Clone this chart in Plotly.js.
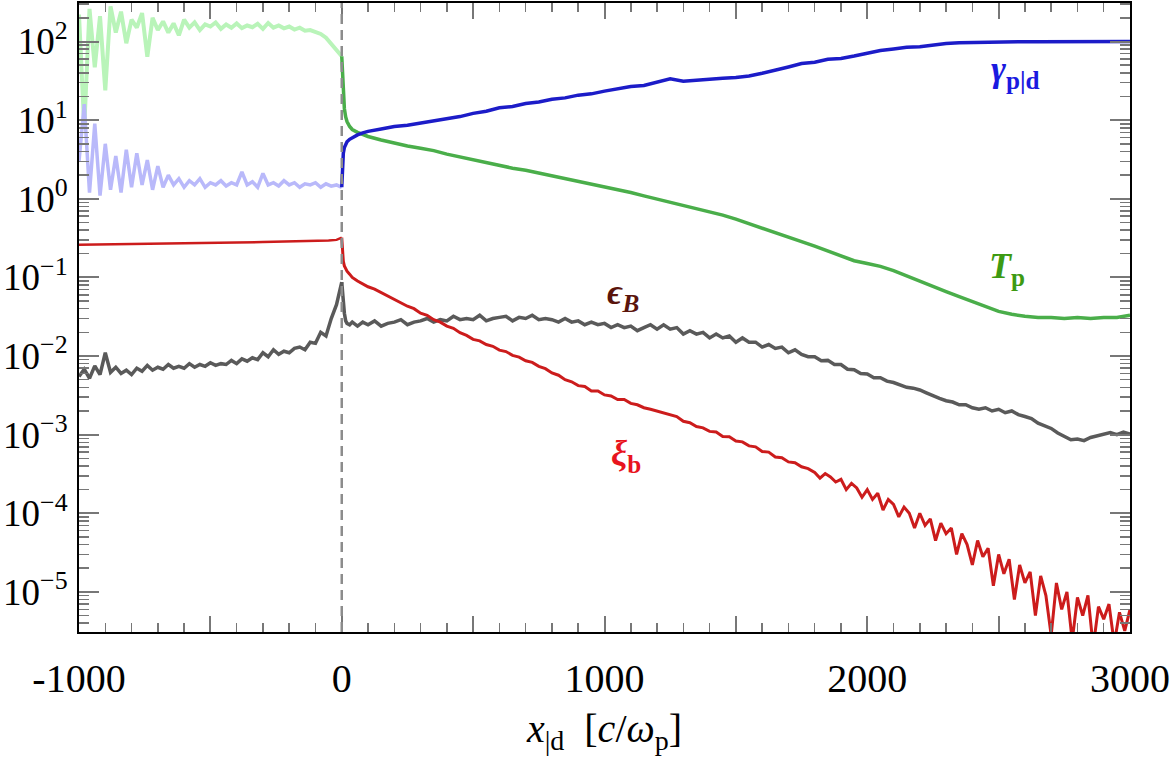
<!DOCTYPE html>
<html>
<head>
<meta charset="utf-8">
<script src="https://cdn.plot.ly/plotly-3.0.1.min.js"></script>
<style>html,body{margin:0;padding:0;background:#fff;}#chart{width:1171px;height:775px;}</style>
</head>
<body>
<div id="chart"></div>
<script>
// ---------- DATA ----------
// upstream sampling grid (x in c/omega_p)
const xUp = [-1000,-980,-960,-940,-920,-900,-880,-860,-840,-820,-800,-780,-760,-740,-720,-700,-680,-660,-640,-620,-600,-580,-560,-540,-520,-500,-480,-460,-440,-420,-400,-380,-360,-340,-320,-300,-280,-260,-240,-220,-200,-180,-160,-140,-120,-100,-80,-60,-40,-20,0];
const tempUp = [220,8,260,47,210,24,280,130,240,95,190,150,230,64,200,140,180,130,170,120,190,150,175,140,165,155,175,145,165,150,170,148,160,152,168,145,172,150,160,147,155,142,150,137,140,131,125,112,92,76,65];
const gammaUp = [3,16,1.2,9,1.1,5,1.3,3.5,1.2,4.2,1.4,3.8,1.5,3.1,1.3,2.6,1.4,2.0,1.5,1.8,1.4,1.7,1.5,1.8,1.4,1.6,1.5,1.7,1.45,1.6,1.5,2.2,1.5,1.65,1.4,2.1,1.5,1.6,1.45,1.7,1.5,1.6,1.4,1.55,1.5,1.6,1.4,1.55,1.45,1.5,1.4];
const epsUp = [0.0055,0.0068,0.0052,0.0075,0.0058,0.011,0.0062,0.0072,0.0060,0.0066,0.0058,0.0070,0.0064,0.0076,0.0066,0.0072,0.0068,0.0078,0.0070,0.0074,0.0070,0.0080,0.0072,0.0078,0.0074,0.0082,0.0076,0.0080,0.0078,0.0088,0.0080,0.0092,0.0086,0.0095,0.0090,0.0110,0.0098,0.0120,0.0105,0.0115,0.0110,0.0125,0.0130,0.0120,0.0150,0.0145,0.0200,0.0180,0.0300,0.0450,0.087];
const xXiUp = [-1000,-900,-800,-700,-600,-500,-400,-300,-200,-100,-50,-20,0];
const xiUp = [0.26,0.262,0.265,0.267,0.27,0.273,0.277,0.281,0.285,0.29,0.294,0.30,0.32];

// downstream, coarse grid (gamma, T)
const xDownCoarse = [0,3,6,10,15,20,30,40,60,80,100,150,200,250,300,350,400,450,500,550,600,650,700,750,800,850,900,950,1000,1050,1100,1150,1200,1250,1300,1350,1400,1450,1500,1550,1600,1650,1700,1750,1800,1850,1900,1950,2000,2050,2100,2150,2200,2250,2300,2350,2400,2450,2500,2550,2600,2650,2700,2750,2800,2850,2900,2950,3000];
const gammaDown = [1.4,2.6,3.8,4.5,5.0,5.3,5.7,6.0,6.5,6.9,7.2,7.7,8.3,8.6,9.2,9.7,10.6,11.1,12.2,13.0,14.4,14.9,16.3,17.0,18.4,19.2,20.8,21.6,23.4,25.0,26.8,27.6,30.5,33.5,31.2,32.4,32.8,34.2,34.8,36.5,39.5,43.0,47.5,52.5,54.5,59.5,61.0,65.5,70.5,77.0,80.5,84.5,86.0,90.5,94.5,96.5,97.5,98.0,98.5,99.0,99.4,99.7,100,100,100,100,100.2,100.2,100.2];
const tempDown = [65,35,20,14,11,9.6,8.3,7.6,7.0,6.6,6.2,5.6,5.1,4.7,4.4,4.1,3.7,3.4,3.15,2.9,2.65,2.45,2.3,2.12,1.98,1.82,1.68,1.55,1.44,1.32,1.2,1.09,0.99,0.91,0.83,0.76,0.69,0.62,0.55,0.48,0.42,0.37,0.325,0.285,0.25,0.215,0.185,0.163,0.15,0.138,0.122,0.104,0.09,0.077,0.066,0.057,0.049,0.042,0.037,0.034,0.032,0.031,0.031,0.030,0.031,0.030,0.031,0.031,0.033];

// downstream, fine grid (epsilon_B)
const xEpsDown = [0,3,6,10,15,20,30,40,60,80,100,125,150,175,200,225,250,275,300,325,350,375,400,425,450,475,500,525,550,575,600,625,650,675,700,725,750,775,800,825,850,875,900,925,950,975,1000,1025,1050,1075,1100,1125,1150,1175,1200,1225,1250,1275,1300,1325,1350,1375,1400,1425,1450,1475,1500,1525,1550,1575,1600,1625,1650,1675,1700,1725,1750,1775,1800,1825,1850,1875,1900,1925,1950,1975,2000,2025,2050,2075,2100,2125,2150,2175,2200,2225,2250,2275,2300,2325,2350,2375,2400,2425,2450,2475,2500,2525,2550,2575,2600,2625,2650,2675,2700,2725,2750,2775,2800,2825,2850,2875,2900,2925,2950,2975,3000];
const epsDown = [0.087,0.06,0.045,0.035,0.028,0.026,0.025,0.027,0.024,0.027,0.025,
0.028,0.024,0.026,0.027,0.029,0.025,0.027,0.028,0.030,0.027,0.029,0.028,0.032,0.029,0.030,0.029,0.033,0.028,0.030,0.031,0.032,0.028,0.031,0.030,0.033,0.029,0.030,0.029,0.027,0.030,0.027,0.028,0.025,0.027,0.025,0.026,0.023,0.025,0.023,0.024,0.021,0.023,0.025,0.022,0.025,0.022,0.023,0.019,0.021,0.019,0.020,0.017,0.019,0.017,0.018,0.015,0.017,0.015,0.015,0.013,0.014,0.0125,0.013,0.011,0.012,0.0105,0.0098,0.0098,0.0087,0.0088,0.0078,0.0078,0.0068,0.0067,0.0060,0.0059,0.0053,0.0053,0.0048,0.0046,0.0043,0.0040,0.0039,0.0037,0.0034,0.0031,0.0029,0.0027,0.0026,0.0024,0.0024,0.0022,0.0021,0.0022,0.0020,0.0021,0.0019,0.0020,0.0018,0.0017,0.0016,0.0014,0.0013,0.0012,0.00105,0.00095,0.00086,0.00088,0.00084,0.00092,0.00096,0.00101,0.00106,0.00100,0.00108,0.00102];

// downstream grid (xi_b)
const xXiDown = [0,3,6,10,15,20,30,40,60,80,100,125,150,175,200,225,250,275,300,325,350,375,400,425,450,475,500,525,550,575,600,625,650,675,700,725,750,775,800,825,850,875,900,925,950,975,1000,1025,1050,1075,1100,1125,1150,1175,1200,1225,1250,1275,1300,1325,1350,1375,1400,1425,1450,1475,1500,1525,1550,1575,1600,1625,1650,1675,1700,1725,1750,1775,1800,1820,1840,1860,1880,1900,1920,1940,1960,1980,2000,2020,2040,2060,2080,2100,2120,2140,2160,2180,2200,2220,2240,2260,2280,2300,2320,2340,2360,2380,2400,2420,2440,2460,2480,2500,2520,2540,2560,2580,2600,2620,2640,2660,2680,2700,2720,2740,2760,2780,2800,2820,2840,2860,2880,2900,2920,2940,2960,2980,3000];
const xiDown = [0.32,0.2,0.16,0.14,0.13,0.12,0.11,0.1,0.09,0.082,0.076,
0.071,0.064,0.059,0.052,0.048,0.043,0.040,0.035,0.033,0.029,0.027,0.024,0.0225,0.0198,0.0183,0.0163,0.0156,0.0140,0.0133,0.0119,0.0114,0.0102,0.0097,0.0087,0.0083,0.0074,0.0069,0.0061,0.0057,0.0050,0.0047,0.0042,0.0041,0.0036,0.0036,0.0032,0.0031,0.0028,0.0028,0.0025,0.0024,0.0022,0.0021,0.0020,0.0019,0.0018,0.0017,0.00148,0.00142,0.00127,0.00122,0.00110,0.00108,0.00095,0.00094,0.00083,0.00081,0.00072,0.00070,0.00061,0.00060,0.00052,0.00051,0.00045,0.00044,0.00039,0.00037,
3.3e-4,2.8e-4,3.2e-4,2.9e-4,2.5e-4,2.7e-4,2.0e-4,2.4e-4,2.1e-4,1.6e-4,2.0e-4,1.5e-4,1.8e-4,1.1e-4,1.5e-4,1.3e-4,9.0e-5,1.2e-4,1.0e-4,6.5e-5,1.0e-4,7.0e-5,8.5e-5,4.5e-5,7.5e-5,5.5e-5,6.5e-5,3.0e-5,5.5e-5,4.0e-5,2.2e-5,4.5e-5,2.8e-5,3.6e-5,1.2e-5,3.0e-5,1.7e-5,2.6e-5,8.0e-6,2.2e-5,1.3e-5,1.8e-5,5.0e-6,1.6e-5,9.0e-6,2.8e-6,1.3e-5,6.0e-6,1.0e-5,2.4e-6,8.5e-6,5.0e-6,9.0e-6,2.0e-6,6.5e-6,4.5e-6,7.0e-6,2.2e-6,5.5e-6,3.2e-6,6.0e-6];

// axis ticks
const xTickVals = [-1000,-500,0,500,1000,1500,2000,2500,3000];
const xTickText = ['-1000',' ','0',' ','1000',' ','2000',' ','3000'];
const yTickVals = [1e-5,1e-4,1e-3,1e-2,1e-1,1,10,100];
const yTickText = ['10<sup>\u22125</sup>','10<sup>\u22124</sup>','10<sup>\u22123</sup>','10<sup>\u22122</sup>','10<sup>\u22121</sup>','10<sup>0</sup>','10<sup>1</sup>','10<sup>2</sup>'];

// curve labels
const labelText = ['<b><i>γ</i><sub>p|d</sub></b>','<b><i>T</i><sub>p</sub></b>','<b><i>ϵ</i><sub><i>B</i></sub></b>','<b><i>ξ</i><sub>b</sub></b>'];
const labelX = [2565, 2530, 1070, 1080];
const labelY = [41, 0.13, 0.06, 5.5e-4];

// ---------- PLOT ----------
const C = {blue:'#1c1cc8', lblue:'#b9b9fa', green:'#4aae4a', lgreen:'#b9f4b9', red:'#cc1c1c', gray:'#5a5a5a'};
function tr(x, y, color, w){ return {x:x, y:y, type:'scatter', mode:'lines', line:{color:color, width:w||2.5}, hoverinfo:'skip', showlegend:false}; }
function serif(size, color){ return {family:'Liberation Serif', size:size, color:color}; }

const traces = [
  tr(xUp, tempUp, C.lgreen, 4),
  tr(xUp, gammaUp, C.lblue, 3.5),
  tr(xUp, epsUp, C.gray, 3.5),
  tr(xEpsDown, epsDown, C.gray, 3.5),
  tr(xXiUp, xiUp, C.red, 2.5),
  tr(xDownCoarse, tempDown, C.green, 3.5),
  tr(xDownCoarse, gammaDown, C.blue, 3.5),
  tr(xXiDown, xiDown, C.red, 3)
];
const labelColors = ['#1a1ae0','#3d9a12','#5a140c','#e8141e'];
const annotations = labelText.map((t,i)=>({x:labelX[i], y:Math.log10(labelY[i]), xref:'x', yref:'y', text:t, showarrow:false,
  font:serif(36, labelColors[i])}));
const layout = {
  width:1171, height:775,
  margin:{l:79, r:41, t:3, b:143},
  paper_bgcolor:'#fff', plot_bgcolor:'#fff',
  xaxis:{range:[-1000,3000], showgrid:false, zeroline:false, showline:true, linecolor:'#000', linewidth:2, mirror:'allticks',
    ticks:'inside', ticklen:16, tickwidth:2, tickcolor:'#777', tickmode:'array', tickvals:xTickVals, ticktext:xTickText,
    tickfont:serif(40,'#000'), ticklabelstandoff:10,
    minor:{ticks:'inside', ticklen:9, tickwidth:1.5, tickcolor:'#777', tickmode:'linear', tick0:0, dtick:100, showgrid:false},
    title:{text:'<i>x</i><sub>|d</sub>  [<i>c</i>/<i>ω</i><sub>p</sub>]', font:serif(40,'#000'), standoff:14}},
  yaxis:{type:'log', range:[-5.51,2.49], showgrid:false, zeroline:false, showline:true, linecolor:'#000', linewidth:2, mirror:'allticks',
    ticks:'inside', ticklen:20, tickwidth:2, tickcolor:'#777', tickmode:'array', tickvals:yTickVals, ticktext:yTickText,
    tickfont:serif(37,'#000'), ticklabelstandoff:2,
    minor:{ticks:'inside', ticklen:10, tickwidth:1.5, tickcolor:'#777', dtick:'D1', showgrid:false}},
  shapes:[{type:'line', xref:'x', yref:'paper', x0:0, x1:0, y0:0, y1:1, layer:'above', line:{color:'#8c8c8c', width:2.5, dash:'10px,6px'}}],
  annotations:annotations
};
Plotly.newPlot('chart', traces, layout, {staticPlot:true, displayModeBar:false});
</script>
</body>
</html>
